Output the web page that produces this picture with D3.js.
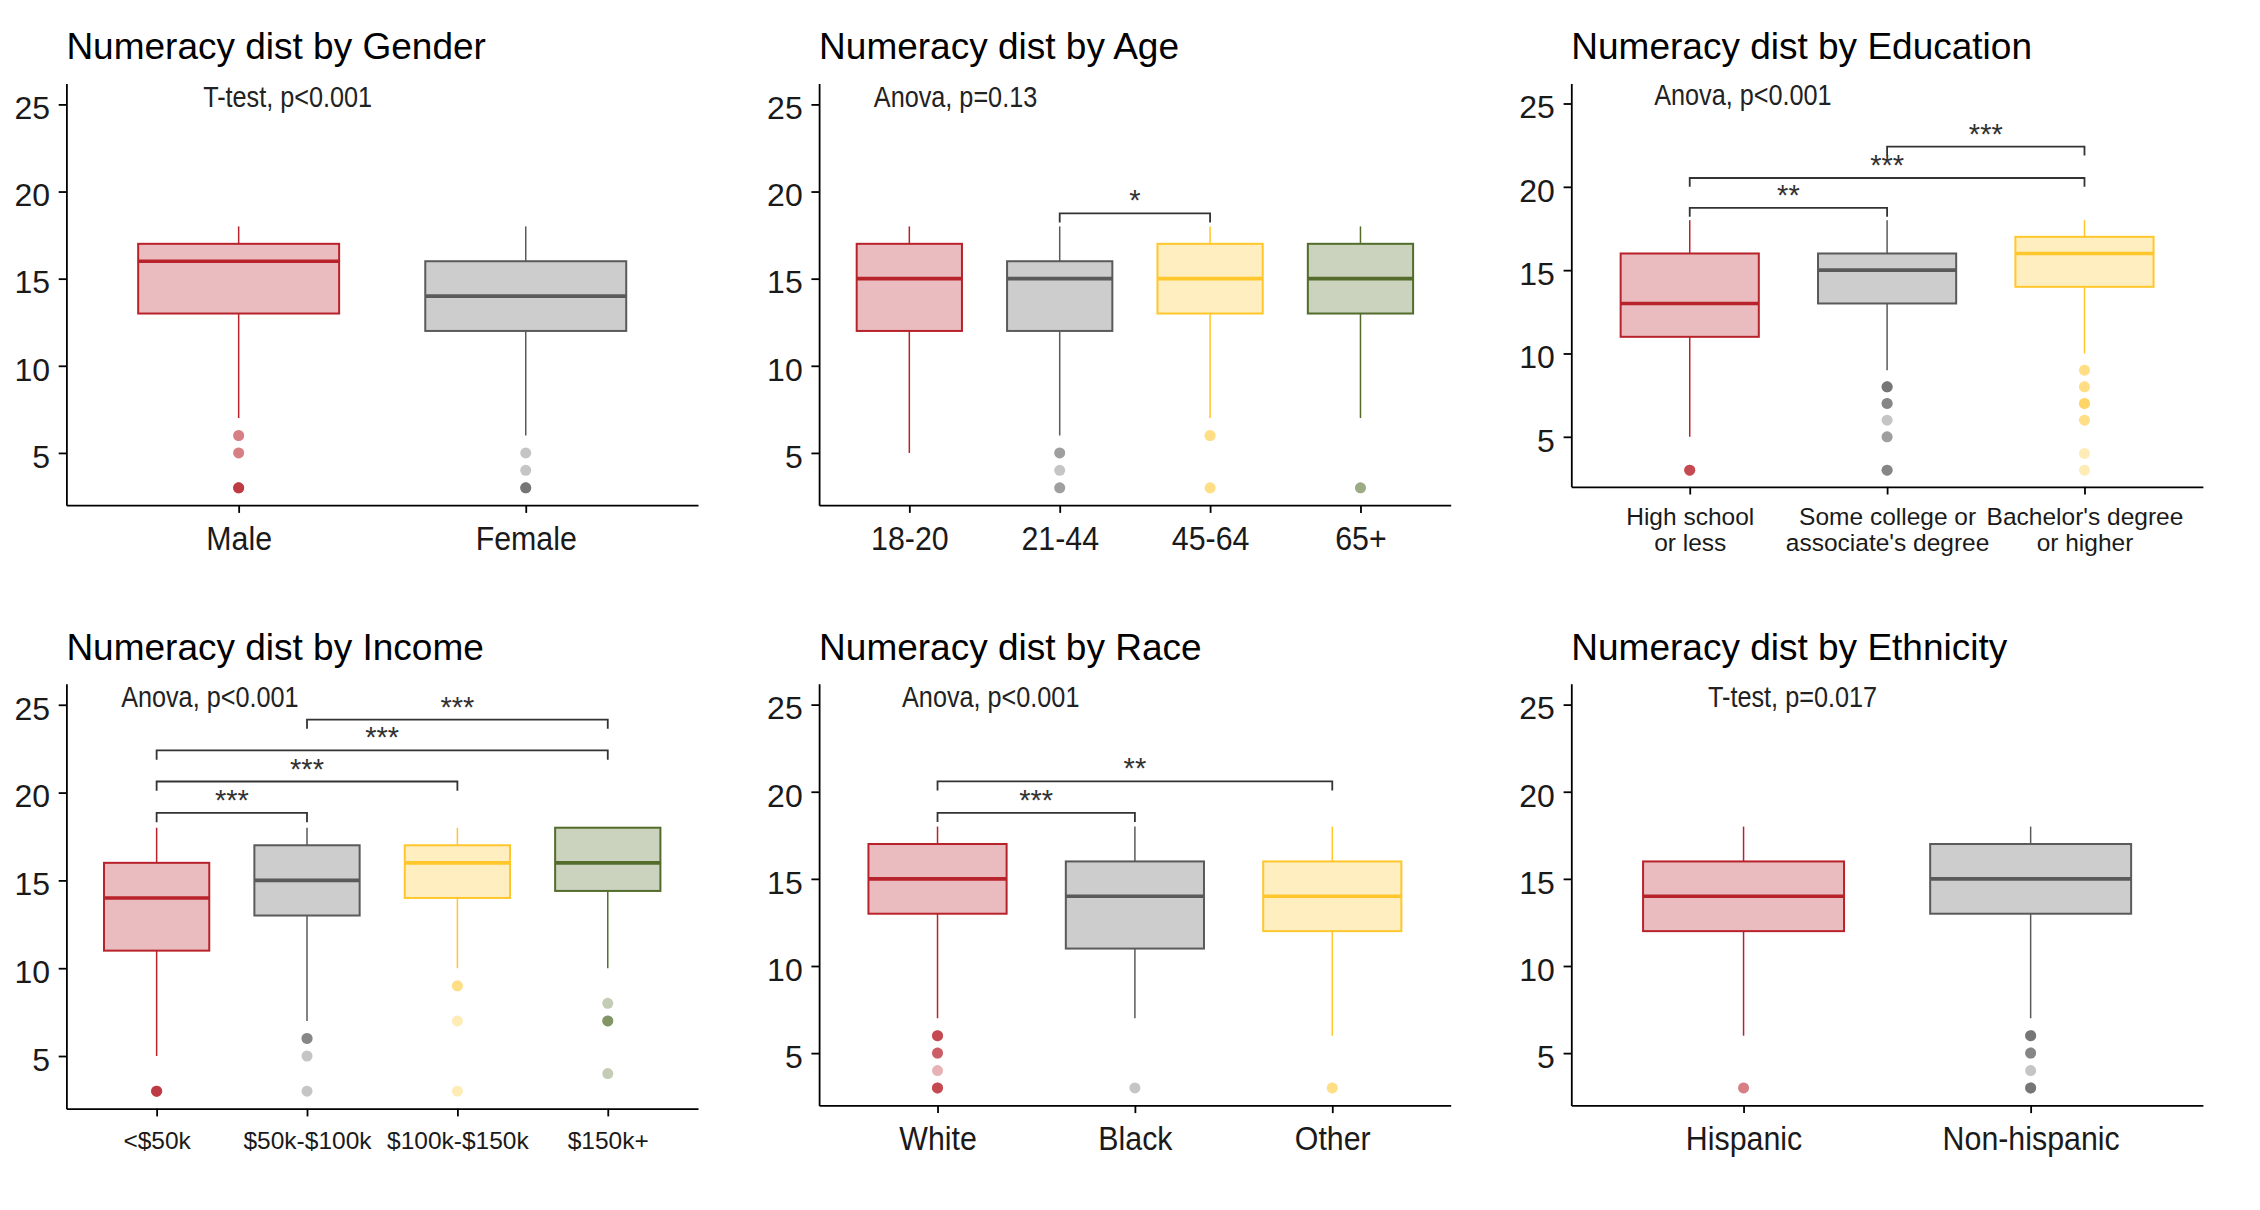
<!DOCTYPE html>
<html>
<head>
<meta charset="utf-8">
<script src="https://cdn.jsdelivr.net/npm/d3@7"></script>
<style>
  body { margin: 0; background: #fff; }
  svg { display: block; }
  text { font-family: "Liberation Sans", Arial, Helvetica, sans-serif; }
</style>
</head>
<body>
<svg id="chart" width="2260" height="1210"></svg>
<script>
// ---- data --------------------------------------------------------------
// Boxes are [lower whisker, Q1, median, Q3, upper whisker]; outliers repeat
// a value once per observation so overlapping points darken.
const yTicks = [5, 10, 15, 20, 25];
const yDomain = [2.0, 26.2];
const groupColors = ["#B8222B", "#5A5A5A", "#FFC72C", "#536C2B"];

const genderCategories = ["Male", "Female"];
const genderBoxes = [[7, 13, 16, 17, 18], [6, 12, 14, 16, 18]];
const genderOutliers = [[6, 6, 5, 5, 3, 3, 3, 3, 3], [5, 4, 3, 3, 3, 3]];
const genderTest = "T-test, p<0.001";
const genderPairs = [];

const ageCategories = ["18-20", "21-44", "45-64", "65+"];
const ageBoxes = [[5, 12, 15, 17, 18], [6, 12, 15, 16, 18], [7, 13, 15, 17, 18], [7, 13, 15, 17, 18]];
const ageOutliers = [[], [5, 5, 4, 3, 3], [6, 6, 3, 3], [3, 3]];
const ageTest = "Anova, p=0.13";
const agePairs = [[1, 2, 18.75, "*"]];

const educationCategories = [["High school", "or less"], ["Some college or", "associate's degree"], ["Bachelor's degree", "or higher"]];
const educationBoxes = [[5, 11, 13, 16, 18], [9, 13, 15, 16, 18], [10, 14, 16, 17, 18]];
const educationOutliers = [[3, 3, 3, 3], [8, 8, 8, 8, 7, 7, 7, 6, 5, 5, 3, 3, 3], [9, 9, 8, 8, 7, 7, 7, 6, 6, 4, 3]];
const educationTest = "Anova, p<0.001";
const educationPairs = [[0, 1, 18.74, "**"], [0, 2, 20.53, "***"], [1, 2, 22.41, "***"]];

const incomeCategories = ["<$50k", "$50k-$100k", "$100k-$150k", "$150k+"];
const incomeBoxes = [[5, 11, 14, 16, 18], [7, 13, 15, 17, 18], [10, 14, 16, 17, 18], [10, 14.4, 16, 18, 18]];
const incomeOutliers = [[3, 3, 3, 3, 3], [6, 6, 6, 5, 3], [9, 9, 7, 3], [8, 7, 7, 7, 4]];
const incomeTest = "Anova, p<0.001";
const incomePairs = [[0, 1, 18.84, "***"], [0, 2, 20.63, "***"], [0, 3, 22.40, "***"], [1, 3, 24.16, "***"]];

const raceCategories = ["White", "Black", "Other"];
const raceBoxes = [[7, 13, 15, 17, 18], [7, 11, 14, 16, 18], [6, 12, 14, 16, 18]];
const raceOutliers = [[6, 6, 6, 6, 5, 5, 5, 4, 3, 3, 3, 3], [3], [3, 3]];
const raceTest = "Anova, p<0.001";
const racePairs = [[0, 1, 18.79, "***"], [0, 2, 20.60, "**"]];

const ethnicityCategories = ["Hispanic", "Non-hispanic"];
const ethnicityBoxes = [[6, 12, 14, 16, 18], [7, 13, 15, 17, 18]];
const ethnicityOutliers = [[3, 3], [6, 6, 6, 6, 5, 5, 5, 4, 3, 3, 3, 3]];
const ethnicityTest = "T-test, p=0.017";
const ethnicityPairs = [];

// ---- layout ------------------------------------------------------------
const colLeft = [66.4, 819.1, 1571.3];
const plotW = 631.6;
const rowTop = [83.5, 683.7];
const plotH = 421.7;

const labelStyles = {
  large:   { size: 33,   squeeze: 0.92, baseline: 44.5, extra: 0 },
  small:   { size: 24.5, squeeze: 1,    baseline: 40.8, extra: 3.3 },
  twoLine: { size: 24.5, squeeze: 1,    baseline: 38.2, extra: -18.4, lineGap: 26 }
};

const panels = [
  { title: "Numeracy dist by Gender",    cats: genderCategories,    boxes: genderBoxes,    outliers: genderOutliers,    test: genderTest,    pairs: genderPairs,    col: 0, row: 0, labels: "large" },
  { title: "Numeracy dist by Age",       cats: ageCategories,       boxes: ageBoxes,       outliers: ageOutliers,       test: ageTest,       pairs: agePairs,       col: 1, row: 0, labels: "large" },
  { title: "Numeracy dist by Education", cats: educationCategories, boxes: educationBoxes, outliers: educationOutliers, test: educationTest, pairs: educationPairs, col: 2, row: 0, labels: "twoLine" },
  { title: "Numeracy dist by Income",    cats: incomeCategories,    boxes: incomeBoxes,    outliers: incomeOutliers,    test: incomeTest,    pairs: incomePairs,    col: 0, row: 1, labels: "small" },
  { title: "Numeracy dist by Race",      cats: raceCategories,      boxes: raceBoxes,      outliers: raceOutliers,      test: raceTest,      pairs: racePairs,      col: 1, row: 1, labels: "large" },
  { title: "Numeracy dist by Ethnicity", cats: ethnicityCategories, boxes: ethnicityBoxes, outliers: ethnicityOutliers, test: ethnicityTest, pairs: ethnicityPairs, col: 2, row: 1, labels: "large" }
];

const svg = d3.select("#chart");
const inkColor = "#1a1a1a";
const boxWidth = 0.7;      // in category units
const tipLength = 0.53;    // bracket tip, in value units

panels.forEach(p => {
  const style = labelStyles[p.labels];
  const left = colLeft[p.col];
  const right = left + plotW;
  const top = rowTop[p.row];
  const bottom = top + plotH + style.extra;
  const n = p.cats.length;

  const x = d3.scaleLinear().domain([0.4, n + 0.6]).range([left, right]);
  const y = d3.scaleLinear().domain(yDomain).range([bottom, top]);
  const g = svg.append("g");

  // title
  g.append("text")
    .attr("x", left).attr("y", top - 24.2)
    .attr("font-size", 37).attr("fill", "#000")
    .text(p.title);

  // y axis
  const yAxis = g.append("g")
    .attr("transform", `translate(${left},0)`)
    .call(d3.axisLeft(y).tickValues(yTicks).tickSize(7.7).tickSizeOuter(0).tickPadding(8.7));
  yAxis.select(".domain").attr("stroke", "#000").attr("stroke-width", 1.8);
  yAxis.selectAll(".tick line").attr("stroke", "#000").attr("stroke-width", 1.8);
  yAxis.selectAll(".tick text")
    .attr("font-size", 32).attr("fill", inkColor)
    .attr("font-family", null).attr("dy", "0.447em");

  // x axis
  const xAxis = g.append("g")
    .attr("transform", `translate(0,${bottom})`)
    .call(d3.axisBottom(x).tickValues(d3.range(1, n + 1)).tickSize(7.7).tickSizeOuter(0)
      .tickFormat(() => ""));
  xAxis.select(".domain").attr("stroke", "#000").attr("stroke-width", 1.8);
  xAxis.selectAll(".tick line").attr("stroke", "#000").attr("stroke-width", 1.8);
  xAxis.selectAll(".tick text").remove();
  xAxis.selectAll(".tick").each(function (d) {
    const label = p.cats[d - 1];
    const lines = Array.isArray(label) ? label : [label];
    const t = d3.select(this).append("text")
      .attr("text-anchor", "middle").attr("fill", inkColor)
      .attr("font-size", style.size)
      .attr("transform", `scale(${style.squeeze},1)`);
    lines.forEach((ln, k) => {
      t.append("tspan").attr("x", 0)
        .attr("y", style.baseline + k * (style.lineGap || 0))
        .text(ln);
    });
  });

  // boxes
  p.boxes.forEach((b, i) => {
    const [lo, q1, med, q3, hi] = b;
    const c = groupColors[i];
    const cx = x(i + 1);
    const x0 = x(i + 1 - boxWidth / 2), x1 = x(i + 1 + boxWidth / 2);
    g.append("line").attr("x1", cx).attr("x2", cx).attr("y1", y(q3)).attr("y2", y(hi))
      .attr("stroke", c).attr("stroke-width", 1.5);
    g.append("line").attr("x1", cx).attr("x2", cx).attr("y1", y(q1)).attr("y2", y(lo))
      .attr("stroke", c).attr("stroke-width", 1.5);
    g.append("rect")
      .attr("x", x0).attr("width", x1 - x0)
      .attr("y", y(q3)).attr("height", y(q1) - y(q3))
      .attr("fill", c).attr("fill-opacity", 0.3)
      .attr("stroke", c).attr("stroke-width", 2);
    g.append("line").attr("x1", x0).attr("x2", x1).attr("y1", y(med)).attr("y2", y(med))
      .attr("stroke", c).attr("stroke-width", 3.6);

    g.selectAll(null).data(p.outliers[i]).enter().append("circle")
      .attr("cx", cx).attr("cy", v => y(v)).attr("r", 5.5)
      .attr("fill", c).attr("fill-opacity", 0.35);
  });

  // test label
  g.append("text")
    .attr("transform", `translate(${x(1) - 35.5},${y(24.88)}) scale(0.87,1)`)
    .attr("font-size", 29).attr("fill", "#222")
    .text(p.test);

  // pairwise comparison brackets
  p.pairs.forEach(([a, b, v, lab]) => {
    const xa = x(a + 1), xb = x(b + 1);
    g.append("path")
      .attr("d", `M${xa},${y(v - tipLength)}V${y(v)}H${xb}V${y(v - tipLength)}`)
      .attr("fill", "none").attr("stroke", "#333").attr("stroke-width", 1.8);
    g.append("text")
      .attr("x", (xa + xb) / 2).attr("y", y(v) - 3)
      .attr("text-anchor", "middle").attr("font-size", 29).attr("fill", "#333")
      .text(lab);
  });
});
</script>
</body>
</html>
